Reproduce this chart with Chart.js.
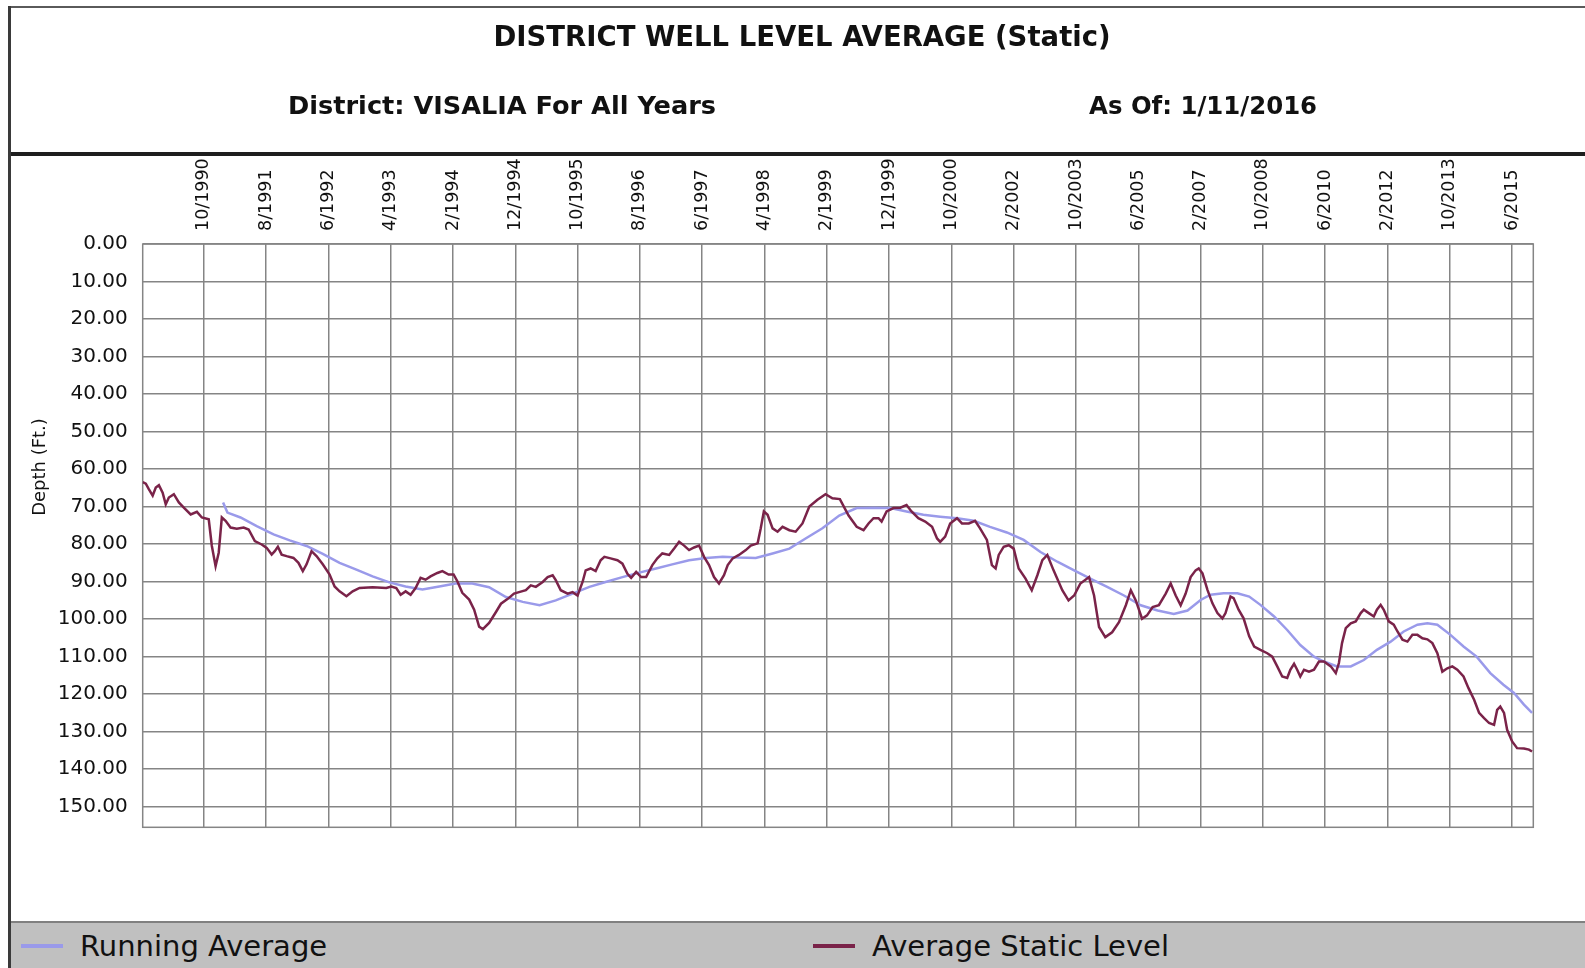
<!DOCTYPE html>
<html>
<head>
<meta charset="utf-8">
<title>District Well Level Average (Static)</title>
<script src="https://cdn.jsdelivr.net/npm/chart.js@4.4.1/dist/chart.umd.min.js"></script>
<style>
    html, body { margin: 0; padding: 0; background: #fff; }
    body {
        width: 1585px; height: 968px; position: relative; overflow: hidden;
        font-family: "DejaVu Sans", sans-serif; color: #111;
    }
    #chart { position: absolute; left: 0; top: 0; }
    .frame-left { position: absolute; left: 8px; top: 6px; bottom: 0; width: 3px; background: #3a3a3a; z-index: 2; }
    .header {
        position: absolute; left: 8px; top: 6px; right: 0; height: 144px;
        border-top: 2px solid #5a5a5a; border-bottom: 4px solid #1e1e1e;
    }
    .title, .sub { position: absolute; white-space: nowrap; font-weight: bold; }
    .title { left: 802px; top: 36px; transform: translate(-50%, -50%); font-size: 27.5px; }
    .sub { top: 105px; transform: translateY(-50%); }
    .sub-left { left: 288px; font-size: 25.6px; }
    .sub-right { left: 1089px; font-size: 24.4px; }
    .legend {
        position: absolute; left: 8px; top: 921px; right: 0; height: 45px;
        background: #c0c0c0; border-top: 2px solid #808080;
    }
    .legend-item { position: absolute; top: 0; height: 45px; display: flex; align-items: center; }
    .legend-item .swatch { width: 42px; height: 4px; margin-right: 17px; }
    .legend-item span { font-size: 29px; color: #111; }
</style>
</head>
<body>
<canvas id="chart" width="1585" height="968"></canvas>
<div class="header"></div>
<div class="frame-left"></div>
<div class="title">DISTRICT WELL LEVEL AVERAGE (Static)</div>
<div class="sub sub-left">District: VISALIA For All Years</div>
<div class="sub sub-right">As Of: 1/11/2016</div>
<div class="legend" id="legend"></div>

<script>
// Tick positions (sample number) and their date labels
const tickSample = [10, 20, 30, 40, 50, 60, 70, 80, 90, 100, 110,
    120, 130, 140, 150, 160, 170, 180, 190, 200, 210, 220];
const tickLabels = ["10/1990", "8/1991", "6/1992", "4/1993", "2/1994", "12/1994",
    "10/1995", "8/1996", "6/1997", "4/1998", "2/1999", "12/1999", "10/2000",
    "2/2002", "10/2003", "6/2005", "2/2007", "10/2008", "6/2010", "2/2012",
    "10/2013", "6/2015"];

// Average Static Level (depth in ft)
const staticSample = [0.2, 0.7, 1.2, 1.8, 2.3, 2.8, 3.4, 3.9, 4.4, 5.2, 6.0, 6.8, 7.9, 8.9, 9.7,
    10.8, 11.3, 11.9, 12.4, 12.9, 13.5, 14.3, 15.3, 16.4, 17.2, 18.2, 19.3, 20.1, 20.9,
    21.4, 21.9, 22.5, 23.3, 24.4, 25.2, 25.9, 26.5, 27.3, 28.1, 29.1, 30.2, 31.0, 31.8,
    32.9, 33.9, 35.0, 37.1, 39.3, 40.1, 40.9, 41.6, 42.4, 43.2, 44.0, 44.8, 45.6, 46.4,
    47.5, 48.3, 49.3, 50.1, 50.7, 51.5, 52.6, 53.4, 54.2, 54.8, 55.8, 56.9, 57.7, 58.8,
    59.8, 60.6, 61.7, 62.5, 63.3, 64.4, 65.2, 66.0, 66.5, 67.3, 68.4, 69.2, 70.0, 70.8,
    71.3, 72.1, 72.9, 73.7, 74.3, 75.3, 76.4, 77.2, 78.0, 78.6, 79.4, 80.2, 81.0, 82.0,
    82.8, 83.6, 84.7, 85.5, 86.3, 87.1, 87.9, 88.7, 89.5, 90.3, 91.1, 91.9, 92.7, 93.5,
    94.1, 94.9, 95.9, 97.0, 97.8, 98.9, 99.4, 99.9, 100.5, 101.3, 102.1, 102.9, 104.0,
    105.0, 106.1, 107.2, 108.5, 109.8, 110.9, 112.1, 113.5, 114.8, 115.9, 116.7, 117.5,
    118.3, 118.8, 119.6, 120.7, 121.8, 122.8, 123.6, 124.7, 125.8, 126.9, 127.7, 128.2,
    129.0, 129.8, 130.9, 131.7, 132.8, 133.8, 134.6, 135.7, 136.5, 137.1, 137.6, 138.4,
    139.2, 140.0, 140.8, 141.9, 142.9, 143.8, 144.6, 145.4, 146.4, 147.8, 148.8, 149.7,
    150.7, 152.1, 152.9, 153.7, 154.7, 155.8, 156.9, 158.0, 158.8, 159.6, 160.6, 161.4,
    162.3, 163.3, 164.4, 165.2, 166.0, 166.8, 167.6, 168.4, 169.2, 169.7, 170.3, 171.1,
    171.9, 172.7, 173.5, 174.0, 174.8, 175.3, 176.1, 176.9, 177.8, 178.6, 179.6, 180.7,
    181.5, 182.3, 183.1, 183.9, 184.4, 185.0, 185.5, 186.0, 186.6, 187.4, 188.2, 189.0,
    189.8, 190.9, 191.7, 192.2, 192.7, 193.3, 194.1, 194.9, 195.7, 196.2, 197.0, 197.8,
    198.3, 198.9, 199.4, 200.2, 201.0, 201.6, 202.4, 203.2, 204.0, 204.8, 205.6, 206.4,
    207.2, 208.0, 208.8, 209.6, 210.4, 211.2, 212.2, 213.0, 213.9, 214.7, 215.5, 216.3,
    217.1, 217.6, 218.1, 218.7, 219.2, 220.0, 220.8, 221.9, 222.7, 223.2];
const staticDepth = [63.5, 63.9, 65.4, 67.1, 64.9, 64.3, 66.3, 69.4, 67.6, 66.7, 68.9, 70.3, 72.1, 71.4, 72.9,
    73.4, 80.5, 85.9, 82.3, 72.9, 73.8, 75.6, 75.9, 75.6, 76.1, 79.2, 80.1, 81.0, 82.8,
    81.9, 80.7, 82.8, 83.2, 83.7, 85.0, 87.2, 85.4, 81.9, 83.2, 85.4, 88.1, 91.3, 92.6,
    93.9, 92.6, 91.7, 91.5, 91.7, 91.3, 91.7, 93.5, 92.6, 93.5, 91.7, 89.0, 89.5, 88.6,
    87.7, 87.2, 88.1, 88.1, 89.9, 93.0, 94.8, 97.5, 102.0, 102.7, 101.0, 98.1, 95.9, 94.6,
    93.2, 92.8, 92.3, 91.0, 91.4, 90.1, 88.8, 88.3, 89.6, 92.3, 93.2, 92.8, 93.7, 90.1,
    87.0, 86.5, 87.2, 84.3, 83.4, 83.8, 84.3, 85.2, 87.9, 89.0, 87.4, 88.8, 88.8, 85.6,
    83.8, 82.5, 82.9, 81.2, 79.4, 80.4, 81.6, 80.9, 80.4, 83.4, 85.6, 88.8, 90.5, 88.3,
    85.6, 83.8, 82.9, 81.6, 80.4, 79.8, 75.8, 71.3, 72.2, 75.8, 76.7, 75.4, 76.3,
    76.7, 74.5, 70.0, 68.2, 66.7, 67.8, 68.0, 72.4, 75.4, 76.3, 74.5, 73.1,
    73.1, 74.0, 71.3, 70.4, 70.3, 69.6, 71.3, 73.1, 74.0, 75.4, 78.5, 79.4,
    78.0, 74.5, 73.1, 74.5, 74.5, 73.8, 75.8, 78.9, 85.6, 86.5, 82.9, 80.7,
    80.3, 81.2, 86.5, 89.2, 92.3, 88.3, 84.3, 82.9, 87.0, 92.3, 95.0, 93.7,
    90.5, 88.8, 93.7, 102.1, 104.8, 103.5, 100.8, 96.3, 92.3, 95.0, 99.9, 99.0,
    96.8, 96.3, 93.2, 90.5, 93.7, 96.3, 93.2, 88.8, 87.0, 86.5, 87.8, 92.2,
    95.8, 98.4, 99.8, 98.4, 94.0, 94.4, 97.5, 99.8, 104.6, 107.3, 108.2, 109.1,
    110.0, 112.6, 115.3, 115.7, 113.5, 111.9, 113.5, 115.3, 113.5, 114.0, 113.5, 111.3,
    111.3, 112.6, 114.4, 111.7, 106.4, 102.4, 101.1, 100.6, 98.4, 97.5, 98.4, 99.3,
    97.5, 96.2, 97.5, 100.6, 101.5, 103.3, 105.5, 106.0, 104.2, 104.2, 105.1, 105.4,
    106.4, 109.1, 114.0, 113.1, 112.6, 113.5, 115.3, 118.4, 121.5, 125.0, 126.4, 127.7,
    128.2, 124.2, 123.3, 125.0, 129.5, 132.6, 134.4, 134.5, 134.8, 135.3];

// Running Average (depth in ft)
const runSample = [13.1, 13.8, 15.9, 18.5, 21.2, 23.8, 26.5, 29.1, 31.8, 34.5, 37.1, 39.8,
    42.4, 45.1, 47.8, 50.4, 53.1, 55.8, 58.5, 61.2, 63.9, 66.5, 69.2, 71.9, 74.5, 77.2,
    79.9, 82.6, 85.2, 87.9, 90.6, 93.3, 95.9, 98.6, 101.3, 104.0, 106.6, 109.3, 112.0,
    114.8, 117.5, 120.2, 122.8, 125.5, 128.2, 130.9, 133.6, 136.2, 138.9, 141.6, 144.3,
    147.0, 149.7, 152.3, 155.0, 157.7, 160.4, 163.1, 165.7, 167.9, 170.0, 171.6, 173.7,
    175.9, 177.8, 179.6, 181.8, 183.9, 186.0, 188.2, 189.8, 191.9, 194.1, 196.2, 198.3,
    200.5, 202.6, 204.8, 206.4, 208.0, 210.1, 212.2, 214.3, 216.5, 218.6, 220.3, 221.9, 223.2];
const runDepth = [68.9, 71.6, 72.9, 75.2, 77.4, 79.0, 80.5, 82.6, 85.0, 86.8, 88.6, 90.2,
    91.3, 92.1, 91.3, 90.5, 90.5, 91.5, 94.1, 95.4, 96.3, 95.0, 93.2, 91.4, 90.1, 88.8,
    87.6, 86.5, 85.4, 84.3, 83.7, 83.4, 83.6, 83.7, 82.5, 81.2, 78.5, 75.8, 72.4,
    70.4, 70.3, 70.4, 71.3, 72.2, 72.7, 73.1, 73.8, 75.4, 76.9, 78.9, 82.1,
    84.7, 87.0, 89.2, 91.4, 93.7, 96.3, 97.7, 98.6, 97.7, 94.9, 93.5, 93.1,
    93.1, 94.0, 96.2, 99.3, 102.9, 106.9, 110.0, 111.3, 112.6, 112.6, 110.9, 108.2,
    106.0, 103.3, 101.5, 101.1, 101.5, 104.2, 107.3, 110.0, 114.4, 117.5, 119.7, 122.8, 125.0];

const colors = {
    running: "#9a9aea",
    staticLevel: "#7a2349",
    grid: "#858585",
    text: "#111"
};

function toPoints(xs, ys) {
    return xs.map((x, i) => ({ x: x, y: ys[i] }));
}

// Outline round the plot area
const plotFrame = {
    id: "plotFrame",
    beforeDatasetsDraw(chart) {
        const { ctx, chartArea: a } = chart;
        ctx.save();
        ctx.strokeStyle = colors.grid;
        ctx.lineWidth = 1.5;
        ctx.strokeRect(a.left, a.top, a.right - a.left, a.bottom - a.top);
        ctx.restore();
    }
};

// Y axis caption, sits a bit above the middle like the original
const depthTitle = {
    id: "depthTitle",
    afterDraw(chart) {
        const { ctx, chartArea } = chart;
        ctx.save();
        ctx.translate(40, chartArea.top + 223);
        ctx.rotate(-Math.PI / 2);
        ctx.font = "18px 'DejaVu Sans'";
        ctx.fillStyle = colors.text;
        ctx.textAlign = "center";
        ctx.textBaseline = "middle";
        ctx.fillText("Depth (Ft.)", 0, 0);
        ctx.restore();
    }
};

const chart = new Chart(document.getElementById("chart"), {
    type: "line",
    data: {
        datasets: [
            {
                label: "Running Average",
                data: toPoints(runSample, runDepth),
                borderColor: colors.running,
                backgroundColor: colors.running,
                borderWidth: 2.5,
                pointRadius: 0,
                tension: 0,
                order: 2
            },
            {
                label: "Average Static Level",
                data: toPoints(staticSample, staticDepth),
                borderColor: colors.staticLevel,
                backgroundColor: colors.staticLevel,
                borderWidth: 2.5,
                pointRadius: 0,
                tension: 0,
                order: 1
            }
        ]
    },
    options: {
        responsive: false,
        animation: false,
        devicePixelRatio: 1,
        layout: {
            padding: { top: 153, left: 0, right: 51.7, bottom: 140.7 }
        },
        plugins: {
            legend: { display: false },
            tooltip: { enabled: false }
        },
        scales: {
            x: {
                type: "linear",
                position: "top",
                min: 0.2,
                max: 223.4,
                afterBuildTicks: (axis) => {
                    axis.ticks = tickSample.map(v => ({ value: v }));
                },
                afterFit: (axis) => { axis.height = 91; },
                ticks: {
                    autoSkip: false,
                    minRotation: 90,
                    maxRotation: 90,
                    padding: 13,
                    // rotated labels on a top axis land one line-height left of the tick
                    labelOffset: 21,
                    color: colors.text,
                    font: { family: "DejaVu Sans", size: 17.5 },
                    callback: (value) => tickLabels[tickSample.indexOf(value)]
                },
                grid: { color: colors.grid, lineWidth: 1.5, drawTicks: false },
                border: { display: false }
            },
            y: {
                reverse: true,
                min: 0,
                max: 155.5,
                afterFit: (axis) => { axis.width = 142.7; },
                ticks: {
                    stepSize: 10,
                    includeBounds: false,
                    padding: 15,
                    color: colors.text,
                    font: { family: "DejaVu Sans", size: 20 },
                    callback: (value) => value.toFixed(2)
                },
                grid: { color: colors.grid, lineWidth: 1.5, drawTicks: false },
                border: { display: false }
            }
        }
    },
    plugins: [plotFrame, depthTitle]
});

// HTML legend built from the datasets, two half-width columns
const legendEl = document.getElementById("legend");
chart.data.datasets.forEach((ds, i) => {
    const item = document.createElement("div");
    item.className = "legend-item";
    item.style.left = (13 + i * 792) + "px";
    const swatch = document.createElement("div");
    swatch.className = "swatch";
    swatch.style.background = ds.borderColor;
    const text = document.createElement("span");
    text.textContent = ds.label;
    item.appendChild(swatch);
    item.appendChild(text);
    legendEl.appendChild(item);
});
</script>
</body>
</html>
